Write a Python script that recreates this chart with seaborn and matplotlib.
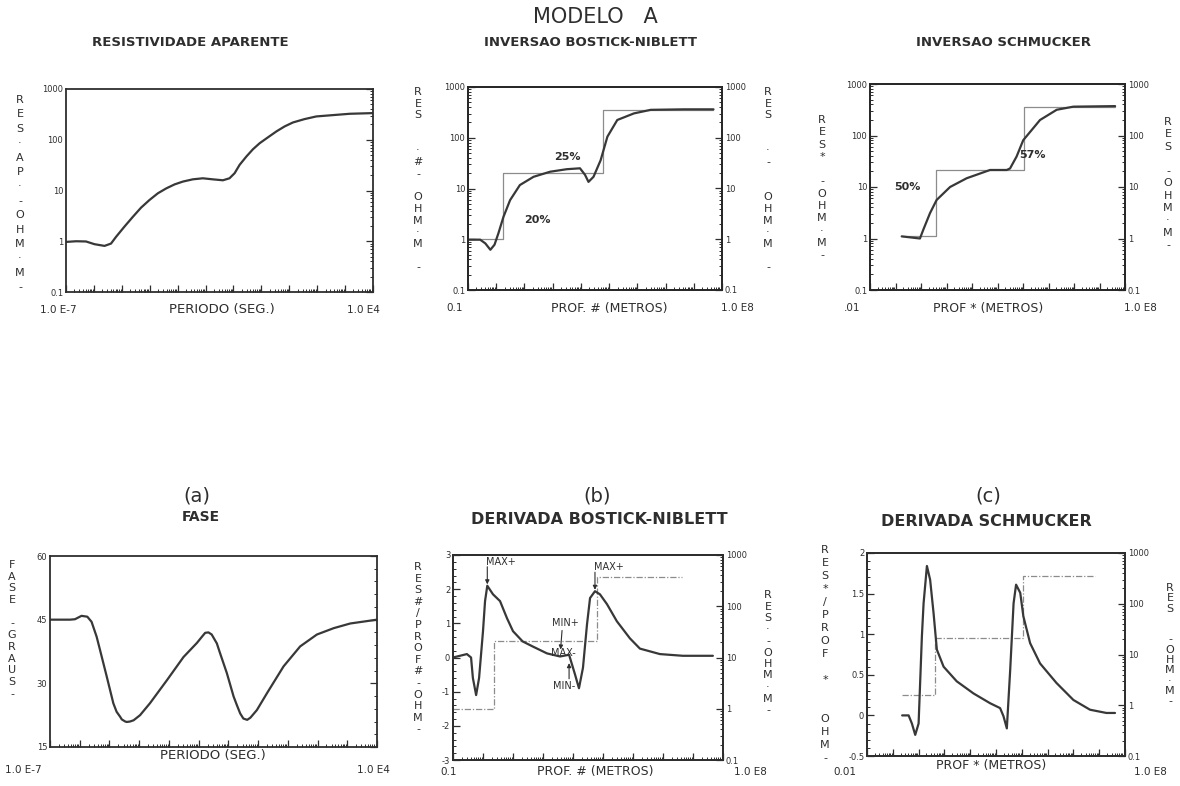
import matplotlib
matplotlib.use("Agg")
import matplotlib.pyplot as plt
import seaborn as sns
import pandas as pd
from matplotlib.ticker import (LogLocator, NullFormatter, FixedLocator,
                               FixedFormatter, AutoMinorLocator)

sns.set_theme(style="white")
plt.rcParams["font.family"] = ["DejaVu Sans"]

# ---------------- data ----------------
# (a) apparent resistivity vs period
p1_period = [1e-7, 2.3e-7, 5.2e-7, 1.05e-6, 2.4e-6, 4.1e-6, 6.2e-6, 1.23e-5, 2.5e-5,
             4.9e-5, 9.8e-5, 1.95e-4, 3.9e-4, 7.8e-4, 1.55e-3, 3.5e-3, 8e-3, 0.018,
             0.042, 0.072, 0.11, 0.166, 0.29, 0.50, 0.87, 1.74, 3.46, 6.8, 13.5, 35,
             93, 370, 1480, 1e4]
p1_rho = [0.97, 1.0, 0.99, 0.875, 0.81, 0.90, 1.22, 1.93, 3.04, 4.6, 6.5, 8.8, 11.0,
          13.2, 15.0, 16.6, 17.4, 16.6, 15.9, 17.4, 21.9, 32, 46.7, 65, 85.5, 112,
          146, 183, 219, 255, 288, 306, 325, 335]

# (a) phase vs period
p4_period = [1e-7, 4.7e-7, 6.9e-7, 1.15e-6, 1.8e-6, 2.5e-6, 3.7e-6, 4.8e-6, 8.1e-6,
             1.05e-5, 1.35e-5, 1.74e-5, 2.3e-5, 2.6e-5, 3.4e-5, 3.8e-5, 4.9e-5,
             6.5e-5, 1.07e-4, 2.3e-4, 8.5e-4, 3.1e-3, 8.7e-3, 0.013, 0.0166, 0.0214,
             0.0275, 0.041, 0.052, 0.089, 0.15, 0.195, 0.25, 0.32, 0.43, 0.55, 0.91,
             2.0, 7.2, 26, 95, 350, 1260, 1e4]
p4_phase = [45, 45, 45.1, 45.9, 45.7, 44.5, 41.0, 37.9, 31.6, 28.4, 25.3, 23.3, 22.1,
            21.5, 21.0, 20.9, 21.0, 21.3, 22.5, 25.3, 30.7, 36.2, 39.5, 41.0, 41.9,
            42.0, 41.5, 39.4, 37.2, 32.4, 26.9, 24.8, 22.9, 21.7, 21.4, 21.9, 23.7,
            27.7, 34.0, 38.7, 41.5, 43.0, 44.1, 45]

# (b) Bostick-Niblett inversion
p2_depth = [0.1, 0.27, 0.41, 0.62, 0.87, 1.2, 1.8, 3.1, 6.9, 21, 81, 316, 930, 1400,
            1860, 2800, 5000, 8700, 19500, 76000, 3e5, 4.5e6, 5e7]
p2_rho = [0.98, 0.98, 0.83, 0.62, 0.78, 1.32, 2.75, 5.9, 11.7, 17, 21.4, 24, 25, 18.6,
          13.5, 17, 36, 105, 224, 302, 355, 363, 363]
p2_model_depth = [0.1, 1.78, 6300, 4.9e7]
p2_model_rho = [1, 20, 360, 360]

# (c) Schmucker inversion
p3_depth = [0.175, 0.91, 1.23, 2.25, 4.1, 13.8, 62, 510, 2300, 3100, 5600, 10200,
            46500, 2.1e5, 9.4e5, 4.1e7]
p3_rho = [1.1, 1.0, 1.48, 3.1, 5.6, 10, 14.8, 21.4, 21.4, 22.9, 39, 81, 200, 316,
          363, 372]
p3_model_depth = [0.175, 3.8, 11200, 4.1e7]
p3_model_rho = [1.1, 21, 360, 360]

# (b) Bostick-Niblett derivative
p5_depth = [0.1, 0.29, 0.4, 0.46, 0.59, 0.74, 1.0, 1.17, 1.39, 2.15, 3.7, 6.3, 10, 21,
            46, 136, 370, 740, 1170, 1580, 2150, 2930, 3700, 5400, 7900, 13600,
            29000, 79000, 1.7e5, 7.9e5, 4.6e6, 4.6e7]
p5_deriv = [0.0, 0.1, 0.0, -0.6, -1.1, -0.6, 0.77, 1.65, 2.1, 1.85, 1.65, 1.15, 0.77,
            0.47, 0.32, 0.12, 0.03, 0.08, -0.5, -0.9, -0.3, 0.97, 1.74, 1.94, 1.85,
            1.56, 1.06, 0.56, 0.26, 0.1, 0.05, 0.05]
p5_model_depth = [0.1, 2.3, 6300, 4.3e6]
p5_model_rho = [1, 21, 370, 370]

# (c) Schmucker derivative
p6_depth = [0.23, 0.41, 0.55, 0.74, 1.0, 1.34, 1.56, 2.1, 2.8, 3.8, 5.1, 9.3, 30, 135,
            590, 1440, 1950, 2630, 3550, 4800, 6000, 8700, 11500, 21000, 51000,
            2.2e5, 1e6, 4.4e6, 1.9e7, 4.1e7]
p6_deriv = [0.0, 0.0, -0.1, -0.24, -0.1, 0.97, 1.38, 1.84, 1.67, 1.26, 0.81, 0.60,
            0.42, 0.27, 0.15, 0.09, -0.01, -0.16, 0.56, 1.38, 1.61, 1.51, 1.22, 0.89,
            0.64, 0.40, 0.19, 0.07, 0.03, 0.03]
p6_model_depth = [0.23, 4.4, 11500, 6.9e6]
p6_model_rho = [1.6, 21, 355, 355]

log_ticks = [0.1, 1, 10, 100, 1000]
log_labels = ["0.1", "1", "10", "100", "1000"]
# ---------------------------------------

W, H = 1180, 786
fig = plt.figure(figsize=(W / 100, H / 100), dpi=100)
fig.patch.set_facecolor("white")
INK = "#2e2e2e"
CURVE = "#383838"
STEP = "#8c8c8c"


def box(l, t, r, b):
    return [l / W, 1 - b / H, (r - l) / W, (b - t) / H]


def txt(x, y, s, size=8, weight="normal", ha="center", va="center", color=INK):
    fig.text(x / W, 1 - y / H, s, fontsize=size, fontweight=weight, ha=ha, va=va,
             color=color)


def stack(x, ytop, step, s, size=8):
    for i, c in enumerate(s):
        if c != " ":
            txt(x, ytop + i * step, c, size=size)


def style_x(ax, xlim):
    ax.set_xscale("log")
    ax.set_xlim(*xlim)
    ax.xaxis.set_major_locator(LogLocator(base=10, numticks=30))
    ax.xaxis.set_minor_locator(LogLocator(base=10, subs=range(2, 10), numticks=30))
    ax.xaxis.set_major_formatter(NullFormatter())
    ax.xaxis.set_minor_formatter(NullFormatter())
    ax.set_xlabel("")
    ax.set_ylabel("")
    for sp in ax.spines.values():
        sp.set_color(INK)
        sp.set_linewidth(1.3)
        sp.set_visible(True)
    ax.tick_params(axis="x", which="major", direction="in", length=5, width=0.9,
                   color=INK, top=False, bottom=True)
    ax.tick_params(axis="x", which="minor", direction="in", length=2.5, width=0.7,
                   color=INK, top=False, bottom=True)


def style_logy(ax):
    ax.set_yscale("log")
    ax.set_ylim(0.1, 1000)
    ax.yaxis.set_major_locator(FixedLocator(log_ticks))
    ax.yaxis.set_major_formatter(FixedFormatter(log_labels))
    ax.yaxis.set_minor_locator(LogLocator(base=10, subs=range(2, 10), numticks=30))
    ax.yaxis.set_minor_formatter(NullFormatter())
    ax.set_ylabel("")
    ax.tick_params(axis="y", which="major", direction="in", length=5, width=0.9,
                   color=INK, labelsize=6, pad=2, labelcolor=INK)
    ax.tick_params(axis="y", which="minor", direction="in", length=2.5, width=0.7,
                   color=INK)


def style_liny(ax, lim, ticks, labels):
    ax.set_ylim(*lim)
    ax.yaxis.set_major_locator(FixedLocator(ticks))
    ax.yaxis.set_major_formatter(FixedFormatter(labels))
    ax.yaxis.set_minor_locator(AutoMinorLocator(5))
    ax.tick_params(axis="y", which="major", direction="in", length=5, width=0.9,
                   color=INK, labelsize=6, pad=2, labelcolor=INK)
    ax.tick_params(axis="y", which="minor", direction="in", length=2.5, width=0.7,
                   color=INK)


def curve(ax, x, y, lw=1.6):
    df = pd.DataFrame({"x": x, "y": y})
    sns.lineplot(data=df, x="x", y="y", ax=ax, color=CURVE, linewidth=lw,
                 estimator=None, sort=False, legend=False)


def steps(ax, x, y, ls="-"):
    df = pd.DataFrame({"x": x, "y": y})
    sns.lineplot(data=df, x="x", y="y", ax=ax, color=STEP, linewidth=0.9,
                 linestyle=ls, drawstyle="steps-post", estimator=None, sort=False,
                 legend=False)


# ---------- Panel 1: apparent resistivity ----------
ax1 = fig.add_axes(box(66, 89, 373, 292))
curve(ax1, p1_period, p1_rho)
style_x(ax1, (1e-7, 1e4))
style_logy(ax1)
ax1.tick_params(axis="y", which="both", right=True)

# ---------- Panel 2: Bostick-Niblett inversion ----------
ax2 = fig.add_axes(box(468, 87, 722, 290))
steps(ax2, p2_model_depth, p2_model_rho)
curve(ax2, p2_depth, p2_rho)
style_x(ax2, (0.1, 1e8))
style_logy(ax2)
ax2r = ax2.twinx()
style_logy(ax2r)
ax2r.tick_params(axis="y", which="both", left=False, right=True)

# ---------- Panel 3: Schmucker inversion ----------
ax3 = fig.add_axes(box(870, 84, 1125, 290))
steps(ax3, p3_model_depth, p3_model_rho)
curve(ax3, p3_depth, p3_rho)
style_x(ax3, (0.01, 1e8))
style_logy(ax3)
ax3r = ax3.twinx()
style_logy(ax3r)
ax3r.tick_params(axis="y", which="both", left=False, right=True)

# ---------- Panel 4: phase ----------
ax4 = fig.add_axes(box(50, 556, 377, 747))
curve(ax4, p4_period, p4_phase)
style_x(ax4, (1e-7, 1e4))
style_liny(ax4, (15, 60), [15, 30, 45, 60], ["15", "30", "45", "60"])
ax4.tick_params(axis="y", which="both", right=True)

# ---------- Panel 5: Bostick-Niblett derivative ----------
ax5 = fig.add_axes(box(453, 555, 723, 760))
ax5r = ax5.twinx()
steps(ax5r, p5_model_depth, p5_model_rho, ls=(0, (5, 1.5, 1, 1.5)))
style_logy(ax5r)
ax5r.tick_params(axis="y", which="both", left=False, right=True)
curve(ax5, p5_depth, p5_deriv)
style_x(ax5, (0.1, 1e8))
style_liny(ax5, (-3, 3), [-3, -2, -1, 0, 1, 2, 3],
           ["-3", "-2", "-1", "0", "1", "2", "3"])
ax5.tick_params(axis="y", which="both", right=False)
ax5.set_zorder(ax5r.get_zorder() + 1)
ax5.patch.set_visible(False)

px = 0.72  # points per pixel at dpi 100
arrow = dict(arrowstyle="-|>", color=INK, lw=0.8, mutation_scale=6, shrinkA=0,
             shrinkB=1)
i1 = p5_deriv.index(max(p5_deriv[:10]))
i2 = p5_deriv.index(max(p5_deriv[15:]))
for i in (i1, i2):
    pt = (p5_depth[i], p5_deriv[i])
    ax5.annotate("", xy=pt, xytext=(0, 19 * px), textcoords="offset points",
                 arrowprops=arrow)
    ax5.annotate("MAX+", xy=pt, xytext=(14 * px, 24 * px), textcoords="offset points",
                 ha="center", va="center", fontsize=7, color=INK)
j = p5_depth.index(370)
ptj = (p5_depth[j], p5_deriv[j])
ax5.annotate("", xy=ptj, xytext=(2 * px, 26 * px), textcoords="offset points",
             arrowprops=dict(arrow, shrinkB=5))
ax5.annotate("MIN+", xy=ptj, xytext=(5 * px, 33 * px), textcoords="offset points",
             ha="center", va="center", fontsize=7, color=INK)
ax5.annotate("MAX-", xy=ptj, xytext=(3 * px, 3 * px), textcoords="offset points",
             ha="center", va="center", fontsize=7, color=INK)
k = p5_depth.index(740)
ptk = (p5_depth[k], p5_deriv[k])
ax5.annotate("", xy=ptk, xytext=(0, -24 * px), textcoords="offset points",
             arrowprops=dict(arrow, shrinkB=6))
ax5.annotate("MIN-", xy=ptk, xytext=(-5 * px, -31 * px), textcoords="offset points",
             ha="center", va="center", fontsize=7, color=INK)

# ---------- Panel 6: Schmucker derivative ----------
ax6 = fig.add_axes(box(867, 553, 1125, 756))
ax6r = ax6.twinx()
steps(ax6r, p6_model_depth, p6_model_rho, ls=(0, (5, 1.5, 1, 1.5)))
style_logy(ax6r)
ax6r.tick_params(axis="y", which="both", left=False, right=True)
curve(ax6, p6_depth, p6_deriv)
style_x(ax6, (0.01, 1e8))
style_liny(ax6, (-0.5, 2), [-0.5, 0, 0.5, 1, 1.5, 2],
           ["-0.5", "0", "0.5", "1", "1.5", "2"])
ax6.tick_params(axis="y", which="both", right=False)
ax6.set_zorder(ax6r.get_zorder() + 1)
ax6.patch.set_visible(False)

# ---------- titles ----------
txt(595, 17, "MODELO   A", size=15)
txt(190, 43, "RESISTIVIDADE APARENTE", size=9.5, weight="bold")
txt(591, 42, "INVERSAO BOSTICK-NIBLETT", size=9.5, weight="bold")
txt(1004, 43, "INVERSAO SCHMUCKER", size=9.5, weight="bold")
txt(197, 496, "(a)", size=14)
txt(201, 517, "FASE", size=10, weight="bold")
txt(597, 496, "(b)", size=14)
txt(599, 520, "DERIVADA BOSTICK-NIBLETT", size=11.5, weight="bold")
txt(988, 496, "(c)", size=14)
txt(986, 521, "DERIVADA SCHMUCKER", size=11.5, weight="bold")

# ---------- x-axis end labels ----------
txt(58, 310, "1.0 E-7", size=7.5)
txt(222, 310, "PERIODO (SEG.)", size=9.5)
txt(363, 310, "1.0 E4", size=7.5)
txt(455, 308, "0.1", size=7.5)
txt(609, 308, "PROF. # (METROS)", size=9)
txt(737, 308, "1.0 E8", size=7.5)
txt(852, 308, ".01", size=7.5)
txt(988, 308, "PROF * (METROS)", size=9)
txt(1140, 308, "1.0 E8", size=7.5)
txt(23, 770, "1.0 E-7", size=7.5)
txt(213, 755, "PERIODO (SEG.)", size=9.5)
txt(373, 770, "1.0 E4", size=7.5)
txt(449, 772, "0.1", size=7.5)
txt(595, 772, "PROF. # (METROS)", size=9)
txt(750, 772, "1.0 E8", size=7.5)
txt(845, 772, "0.01", size=7.5)
txt(991, 766, "PROF * (METROS)", size=9)
txt(1150, 772, "1.0 E8", size=7.5)

# ---------- stacked axis labels ----------
stack(20, 100, 14.4, "RES·AP·-OHM·M-")
stack(418, 92, 11.7, "RES  ·#- OHM·M -")
stack(768, 92, 11.7, "RES  ·-  OHM·M -")
stack(822, 120, 12.3, "RES* -OHM·M-")
stack(1168, 122, 12.3, "RES -OHM·M-")
stack(12, 565, 11.7, "FASE -GRAUS-")
stack(418, 567, 11.6, "RES#/PROF#-OHM-")
stack(768, 595, 11.5, "RES·-OHM·M-")
stack(825, 550, 13, "RES*/PROF *  OHM-")
stack(1170, 588, 10.3, "RES  -OHM·M-")

# ---------- percentage labels ----------
txt(537, 220, "20%", size=8, weight="bold")
txt(567, 157, "25%", size=8, weight="bold")
txt(907, 187, "50%", size=8, weight="bold")
txt(1032, 155, "57%", size=8, weight="bold")

fig.savefig("out.png", dpi=100, facecolor="white")
